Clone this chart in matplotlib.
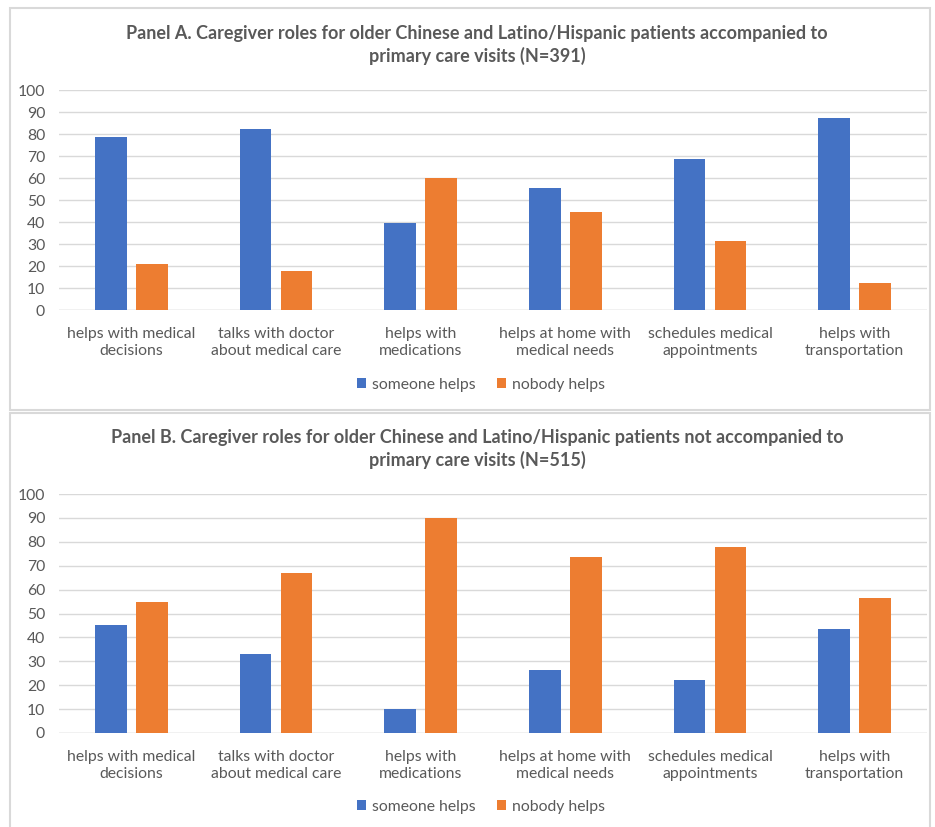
import numpy as np
import matplotlib
matplotlib.use("Agg")
import matplotlib.pyplot as plt
from matplotlib.patches import Rectangle

# data
categories = ["helps with medical\ndecisions", "talks with doctor\nabout medical care",
              "helps with\nmedications", "helps at home with\nmedical needs",
              "schedules medical\nappointments", "helps with\ntransportation"]
series_names = ["someone helps", "nobody helps"]

panel_a_someone = [78.6, 82.1, 39.7, 55.3, 68.5, 87.4]
panel_a_nobody = [21.0, 17.6, 60.1, 44.4, 31.2, 12.4]
panel_b_someone = [45.1, 33.1, 10.0, 26.5, 22.3, 43.7]
panel_b_nobody = [54.7, 67.0, 90.0, 73.5, 77.7, 56.3]

title_a = "Panel A. Caregiver roles for older Chinese and Latino/Hispanic patients accompanied to\nprimary care visits (N=391)"
title_b = "Panel B. Caregiver roles for older Chinese and Latino/Hispanic patients not accompanied to\nprimary care visits (N=515)"

blue = "#4472c4"
orange = "#ed7d31"
txt = "#595959"
grid = "#d9d9d9"

plt.rcParams["font.family"] = ["Lato", "DejaVu Sans"]

W, H = 935, 827
fig = plt.figure(figsize=(W / 100, H / 100), dpi=100)

def px_box(x0, y0, x1, y1):
    # pixel box (top-left origin) to figure fraction
    return [x0 / W, 1 - y1 / H, (x1 - x0) / W, (y1 - y0) / H]

# panel borders
for (y0, y1) in [(8, 410), (413, 830)]:
    fig.patches.append(Rectangle((10 / W, 1 - y1 / H), (930 - 10) / W, (y1 - y0) / H,
                                 transform=fig.transFigure, fill=False,
                                 edgecolor=grid, linewidth=1.5))

def draw_panel(box, someone, nobody, title, title_y, legend_y):
    ax = fig.add_axes(px_box(*box))
    x = np.arange(len(categories))
    ax.bar(x - 0.142, someone, width=0.22, color=blue, label=series_names[0], zorder=3)
    ax.bar(x + 0.142, nobody, width=0.22, color=orange, label=series_names[1], zorder=3)
    ax.set_xlim(-0.5, len(categories) - 0.5)
    ax.set_ylim(0, 100)
    ax.set_yticks(range(0, 101, 10))
    ax.set_xticks(x)
    ax.set_xticklabels(categories, fontsize=11.3, color=txt, linespacing=1.3)
    ax.tick_params(axis="y", labelsize=11.3, labelcolor=txt, length=0, pad=10)
    ax.tick_params(axis="x", length=0, pad=12)
    ax.grid(axis="y", color=grid, linewidth=1, zorder=0)
    for s in ax.spines.values():
        s.set_visible(False)
    ax.axhline(0, color=grid, linewidth=1, zorder=2)
    fig.text(477 / W, 1 - title_y / H, title, ha="center", va="center",
             fontsize=13, fontweight="bold", color=txt, linespacing=1.35)
    leg = ax.legend(loc="center", bbox_to_anchor=(481 / W, 1 - legend_y / H),
                    bbox_transform=fig.transFigure, ncol=2, frameon=False,
                    fontsize=11.3, handlelength=0.6, handleheight=0.6,
                    handletextpad=0.4, columnspacing=1.3)
    for t in leg.get_texts():
        t.set_color(txt)
    return ax

draw_panel((59, 90, 927, 310), panel_a_someone, panel_a_nobody, title_a, 45, 385)
draw_panel((59, 494, 927, 733), panel_b_someone, panel_b_nobody, title_b, 449, 807)

fig.savefig("out.png", dpi=100, facecolor="white")
